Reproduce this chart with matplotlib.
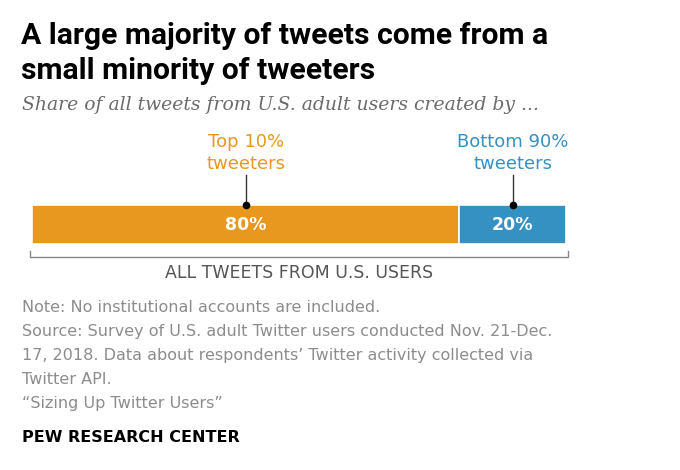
import matplotlib
matplotlib.use("Agg")
import matplotlib.pyplot as plt
import matplotlib.transforms as mtransforms

# data
groups = ["Top 10%\ntweeters", "Bottom 90%\ntweeters"]
shares = [80, 20]
colors = ["#E8981E", "#3591C1"]
value_labels = ["80%", "20%"]

title = "A large majority of tweets come from a\nsmall minority of tweeters"
subtitle = "Share of all tweets from U.S. adult users created by ..."
axis_note = "ALL TWEETS FROM U.S. USERS"
notes = ["Note: No institutional accounts are included.",
         "Source: Survey of U.S. adult Twitter users conducted Nov. 21-Dec.",
         "17, 2018. Data about respondents\u2019 Twitter activity collected via",
         "Twitter API.",
         "\u201cSizing Up Twitter Users\u201d"]
source = "PEW RESEARCH CENTER"

W, H = 680, 470
sans = ["DejaVu Sans"]
grey = "#8c8c8c"

fig = plt.figure(figsize=(W / 100, H / 100), dpi=100)
fig.patch.set_facecolor("white")


def px(x, y):
    # pixel position (top-left origin) to figure fraction
    return x / W, 1 - y / H


# title and subtitle
fig.text(*px(21, 22), title, ha="left", va="top", fontsize=21.7,
         fontweight="bold", family=["Roboto", "DejaVu Sans"], color="black",
         linespacing=1.3)
fig.text(*px(22, 96), subtitle, ha="left", va="top", fontsize=13.5,
         style="italic", family=["DejaVu Serif"], color="#6b6b6b")

# the bar
ax = fig.add_axes([32 / W, 1 - 244 / H, 534 / W, 39 / H])
left = 0
centers = []
for share, col, lab in zip(shares, colors, value_labels):
    ax.barh(0, share, left=left, height=1, color=col, edgecolor="white", linewidth=1.2)
    ax.text(left + share / 2, 0, lab, ha="center", va="center", color="white",
            fontsize=12.5, fontweight="bold", family=sans)
    centers.append(left + share / 2)
    left += share
ax.set_xlim(0, sum(shares))
ax.set_ylim(-0.5, 0.5)
ax.axis("off")

trans = mtransforms.blended_transform_factory(ax.transData, ax.transAxes)
for cx, col, name in zip(centers, colors, groups):
    ax.plot([cx, cx], [1.0, 1.76], color="#333333", lw=1, transform=trans, clip_on=False)
    ax.plot([cx], [1.0], "o", color="black", ms=4.5, transform=trans, clip_on=False)
    ax.text(cx, 1.82, name, ha="center", va="bottom", color=col, fontsize=13,
            family=sans, transform=trans, linespacing=1.3)

# bracket under the bar
ax.plot([-0.4, -0.4, 100.4, 100.4], [-0.18, -0.34, -0.34, -0.18], color="#888888",
        lw=1, transform=trans, clip_on=False)
ax.text(50, -0.52, axis_note, ha="center", va="top", color="#555555", fontsize=12.5,
        family=sans, transform=trans)

# notes
for i, line in enumerate(notes):
    fig.text(*px(22, 300 + 24 * i), line, ha="left", va="top", fontsize=11.5,
             family=sans, color=grey)
fig.text(*px(22, 430), source, ha="left", va="top", fontsize=11.5,
         fontweight="bold", family=sans, color="black")

fig.savefig("out.png", dpi=100)
